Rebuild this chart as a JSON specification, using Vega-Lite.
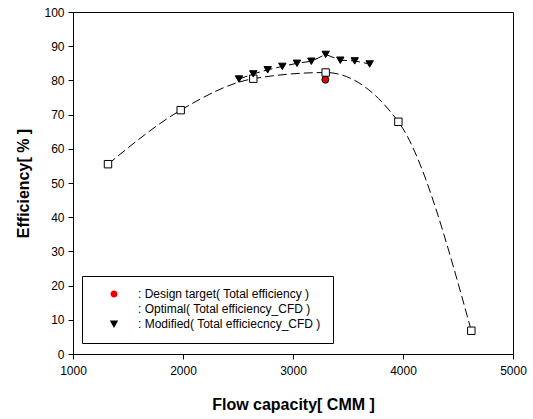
{
  "$schema": "https://vega.github.io/schema/vega-lite/v6.json",
  "width": 440,
  "height": 342,
  "autosize": "none",
  "padding": {"left": 73, "top": 12, "right": 20, "bottom": 65},
  "background": "white",
  "config": {
    "font": "Liberation Sans",
    "view": {"stroke": "black", "strokeWidth": 1},
    "axis": {
      "domainColor": "black",
      "tickColor": "black",
      "tickSize": 5,
      "labelColor": "black",
      "labelFontSize": 12,
      "labelFont": "Liberation Sans",
      "labelFlush": false,
      "labelOverlap": false,
      "titleColor": "black",
      "titleFont": "Liberation Sans",
      "titleFontSize": 16,
      "titleFontWeight": "bold",
      "grid": false
    },
    "legend": {
      "title": null,
      "orient": "none",
      "legendX": 9,
      "legendY": 264,
      "padding": 12,
      "strokeColor": "black",
      "fillColor": "white",
      "symbolSize": 49,
      "symbolOffset": 14,
      "symbolStrokeColor": "black",
      "symbolStrokeWidth": 1,
      "symbolOpacity": 1,
      "rowPadding": 3,
      "labelOffset": 18,
      "labelFontSize": 12,
      "labelFont": "Liberation Sans",
      "labelColor": "black",
      "labelLimit": 400
    }
  },
  "data": {
    "values": [
      {"series": "Optimal", "x": 1318, "y": 55.5},
      {"series": "Optimal", "x": 1979, "y": 71.3},
      {"series": "Optimal", "x": 2639, "y": 80.5},
      {"series": "Optimal", "x": 3297, "y": 82.3},
      {"series": "Optimal", "x": 3958, "y": 67.9},
      {"series": "Optimal", "x": 4621, "y": 6.8},
      {"series": "Modified", "x": 2509, "y": 80.4},
      {"series": "Modified", "x": 2639, "y": 81.9},
      {"series": "Modified", "x": 2770, "y": 83.1},
      {"series": "Modified", "x": 2903, "y": 84.1},
      {"series": "Modified", "x": 3036, "y": 85.0},
      {"series": "Modified", "x": 3167, "y": 85.6},
      {"series": "Modified", "x": 3297, "y": 87.6},
      {"series": "Modified", "x": 3430, "y": 85.9},
      {"series": "Modified", "x": 3561, "y": 85.7},
      {"series": "Modified", "x": 3697, "y": 84.8},
      {"series": "Design", "x": 3294, "y": 80.2}
    ]
  },
  "encoding": {
    "x": {
      "field": "x", "type": "quantitative",
      "scale": {"domain": [1000, 5000], "nice": false, "zero": false},
      "axis": {"values": [1000, 2000, 3000, 4000, 5000], "title": "Flow capacity[ CMM ]", "labelPadding": 6, "titlePadding": 20, "format": "d"}
    },
    "y": {
      "field": "y", "type": "quantitative",
      "scale": {"domain": [0, 100], "nice": false},
      "axis": {"values": [0, 10, 20, 30, 40, 50, 60, 70, 80, 90, 100], "title": "Efficiency[ % ]", "labelPadding": 4, "titlePadding": 12}
    }
  },
  "layer": [
    {
      "transform": [{"filter": "datum.series === 'Optimal'"}],
      "mark": {"type": "line", "interpolate": "monotone", "color": "black", "strokeWidth": 1, "strokeDash": [9, 4]}
    },
    {
      "transform": [{"filter": "datum.series === 'Modified'"}],
      "mark": {"type": "line", "color": "black", "strokeWidth": 1, "strokeDash": [9, 4]}
    },
    {
      "transform": [{"filter": "datum.series === 'Optimal'"}],
      "mark": {"type": "point", "shape": "square", "filled": true, "fill": "white", "stroke": "black", "strokeWidth": 1, "opacity": 1, "size": 55}
    },
    {
      "transform": [{"filter": "datum.series === 'Modified'"}],
      "mark": {"type": "point", "shape": "triangle-down", "filled": true, "fill": "black", "stroke": "black", "strokeWidth": 1, "opacity": 1, "size": 55}
    },
    {
      "transform": [{"filter": "datum.series === 'Design'"}],
      "mark": {"type": "point", "shape": "circle", "filled": true, "fill": "#ee0000", "stroke": "black", "strokeWidth": 1, "opacity": 1, "size": 48}
    },
    {
      "transform": [{"filter": "false"}],
      "mark": {"type": "point", "filled": false, "stroke": "black", "strokeWidth": 1, "opacity": 1, "fillOpacity": 1, "size": 49},
      "encoding": {
        "shape": {
          "field": "series", "type": "nominal",
          "scale": {
            "domain": ["Design", "Optimal", "Modified"],
            "range": [
              "M-5,0L-1,0M1,0L5,0M-1,0C-1,-0.552 -0.552,-1 0,-1C0.552,-1 1,-0.552 1,0C1,0.552 0.552,1 0,1C-0.552,1 -1,0.552 -1,0Z",
              "M-5,0L-2.15,0M2.15,0L5,0M-1,-1L1,-1L1,1L-1,1Z",
              "M-5,0L-2.15,0M2.15,0L5,0M-1.2,-1L1.2,-1L0,1.15Z"
            ]
          },
          "legend": {
            "labelExpr": "datum.value === 'Design' ? ': Design target( Total efficiency )' : datum.value === 'Optimal' ? ': Optimal( Total efficiency_CFD )' : ': Modified( Total efficiecncy_CFD )'"
          }
        },
        "fill": {
          "field": "series", "type": "nominal",
          "scale": {"domain": ["Design", "Optimal", "Modified"], "range": ["#ee0000", "white", "black"]},
          "legend": {
            "labelExpr": "datum.value === 'Design' ? ': Design target( Total efficiency )' : datum.value === 'Optimal' ? ': Optimal( Total efficiency_CFD )' : ': Modified( Total efficiecncy_CFD )'"
          }
        }
      }
    }
  ]
}
